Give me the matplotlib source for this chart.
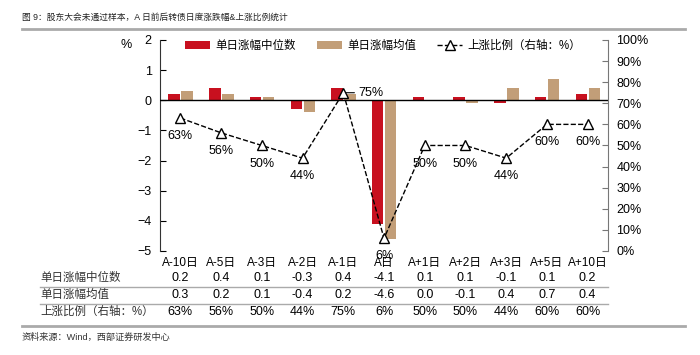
import numpy as np
import matplotlib
matplotlib.use("Agg")
import matplotlib.pyplot as plt
from matplotlib.transforms import blended_transform_factory
from matplotlib.ticker import FuncFormatter

plt.rcParams['font.family'] = ['Liberation Sans', 'Noto Sans CJK SC', 'DejaVu Sans']

categories = ['A-10日', 'A-5日', 'A-3日', 'A-2日', 'A-1日', 'A日',
              'A+1日', 'A+2日', 'A+3日', 'A+5日', 'A+10日']
median_chg = [0.2, 0.4, 0.1, -0.3, 0.4, -4.1, 0.1, 0.1, -0.1, 0.1, 0.2]
mean_chg = [0.3, 0.2, 0.1, -0.4, 0.2, -4.6, 0.0, -0.1, 0.4, 0.7, 0.4]
up_ratio = [63, 56, 50, 44, 75, 6, 50, 50, 44, 60, 60]

row_names = ['单日涨幅中位数', '单日涨幅均值', '上涨比例（右轴：%）']
title = '图 9：股东大会未通过样本，A 日前后转债日度涨跌幅&上涨比例统计'
source = '资料来源：Wind，西部证券研发中心'

red = '#C8101F'
tan = '#C29E78'
x = np.arange(len(categories))
fs = 8.5

fig = plt.figure(figsize=(7, 3.55), dpi=100)
ax = fig.add_axes([0.2286, 0.2930, 0.64, 0.5944])
ax2 = ax.twinx()

w = 0.28
ax.bar(x - 0.155, median_chg, w, color=red, label=row_names[0], zorder=2)
ax.bar(x + 0.165, mean_chg, w, color=tan, label=row_names[1], zorder=2)
ax.axhline(0, color='black', lw=1.0, zorder=3)
ax.set_xlim(-0.5, len(categories) - 0.5)
ax.set_ylim(-5, 2)
ax.set_yticks(range(-5, 3))
ax.tick_params(axis='y', direction='in', length=4, labelsize=fs + 0.5, pad=6)
ax.set_xticks(x)
ax.set_xticklabels(categories, fontsize=fs)
ax.tick_params(axis='x', length=0, pad=4)
for s in ['top', 'right', 'bottom']:
    ax.spines[s].set_visible(False)
ax.spines['left'].set_color('#333333')
ax.text(-0.076, 0.976, '%', transform=ax.transAxes, fontsize=fs + 0.5,
        ha='center', va='center')

line, = ax2.plot(x, up_ratio, ls='--', color='black', lw=1.0, marker='^',
                 markersize=6.5, markerfacecolor='white', markeredgecolor='black',
                 label=row_names[2], zorder=4)
ax2.set_ylim(0, 100)
ax2.set_yticks(range(0, 101, 10))
ax2.yaxis.set_major_formatter(FuncFormatter(lambda v, p: f'{v:.0f}%'))
ax2.tick_params(axis='y', direction='in', length=4, labelsize=fs + 0.5, pad=6,
                color='#777777')
for s in ['top', 'left', 'bottom']:
    ax2.spines[s].set_visible(False)
ax2.spines['right'].set_color('#777777')

for i, v in enumerate(up_ratio):
    if i == 4:
        ax2.annotate(f'{v}%', (i, v), xytext=(11, 0), textcoords='offset points',
                     ha='left', va='center', fontsize=fs + 0.5,
                     arrowprops=dict(arrowstyle='-', lw=0.8, color='black',
                                     shrinkA=1, shrinkB=2))
    else:
        ax2.annotate(f'{v}%', (i, v), xytext=(0, -13), textcoords='offset points',
                     ha='center', va='center', fontsize=fs + 0.5)

handles = [ax.containers[0], ax.containers[1], line]
fig.legend(handles, row_names, loc='center left', bbox_to_anchor=(0.264, 0.870),
           ncol=3, frameon=False, fontsize=8.3, handlelength=2.2, columnspacing=1.8,
           handletextpad=0.45, borderpad=0, borderaxespad=0)

# data table under the chart
trans = blended_transform_factory(ax.transData, fig.transFigure)
table_rows = [[f'{v:.1f}' for v in median_chg],
              [f'{v:.1f}' for v in mean_chg],
              [f'{v}%' for v in up_ratio]]
row_y = [0.2169, 0.169, 0.1211]
for name, vals, yy in zip(row_names, table_rows, row_y):
    fig.text(0.057, yy, name, fontsize=8.3, ha='left', va='center', color='#333333')
    for i, t in enumerate(vals):
        fig.text(x[i], yy, t, transform=trans, fontsize=fs + 0.5, ha='center',
                 va='center')

for yy in [0.1915, 0.1437]:
    fig.add_artist(plt.Line2D([0.057, 0.8686], [yy, yy], color='#aaaaaa', lw=1.0))
fig.add_artist(plt.Line2D([0.031, 0.979], [0.0817, 0.0817], color='#aaaaaa', lw=2.0))
fig.add_artist(plt.Line2D([0.031, 0.979], [0.918, 0.918], color='#aaaaaa', lw=2.0))

fig.text(0.031, 0.952, title, fontsize=6.3, ha='left', va='center', color='#222222')
fig.text(0.031, 0.0507, source, fontsize=6.6, ha='left', va='center', color='#333333')

fig.savefig('out.png', dpi=100)
